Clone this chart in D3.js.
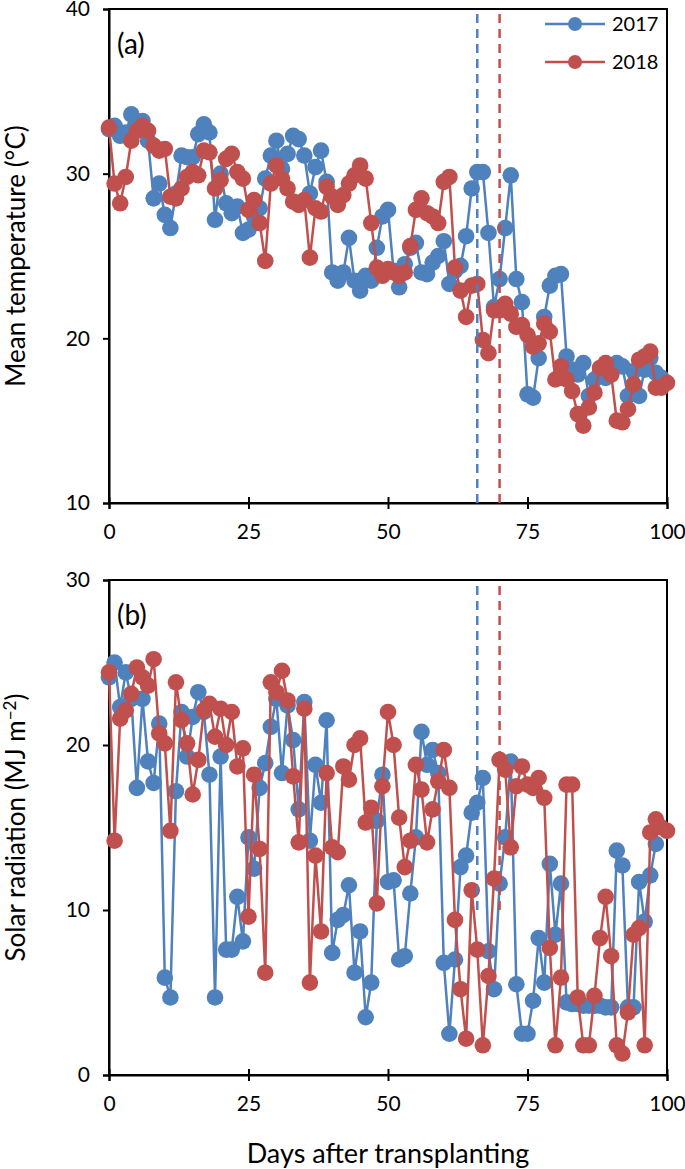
<!DOCTYPE html>
<html>
<head>
<meta charset="utf-8">
<script src="https://cdn.jsdelivr.net/npm/d3@7/dist/d3.min.js"></script>
<style>
body { margin:0; background:#fff; }
text { font-family: Lato, "Open Sans", sans-serif; fill:#000; }
</style>
</head>
<body>
<svg id="chart" width="685" height="1169"></svg>
<script>

// mean temperature, one value per day after transplanting (index = day)
var temp2017 = [32.7,32.9,32.3,32.5,33.6,33.0,33.2,32.0,28.5,29.4,
                27.5,26.7,28.8,31.1,31.0,31.0,32.4,33.0,32.5,27.2,
                30.0,28.2,27.6,28.0,26.4,26.6,27.4,27.9,29.7,31.1,
                32.0,30.3,31.2,32.3,32.1,31.1,28.8,30.4,31.4,29.5,
                24.0,23.5,24.0,26.1,23.5,22.9,23.8,23.5,25.5,27.4,
                27.8,24.1,23.1,24.5,25.5,25.8,24.0,23.9,24.6,25.0,
                25.9,23.3,24.1,24.4,26.2,29.1,30.1,30.1,26.4,21.9,
                23.6,26.7,29.9,23.6,22.2,16.6,16.4,18.8,21.3,23.2,
                23.8,23.9,18.9,18.1,17.8,18.5,16.5,17.5,17.9,17.6,
                18.0,18.5,18.3,16.5,18.0,16.5,18.1,18.8,17.9,17.6];

var temp2018 = [32.8,29.4,28.2,29.8,32.0,32.6,32.9,32.6,31.7,31.4,
                31.5,28.6,28.5,29.1,29.8,30.1,29.9,31.4,31.3,29.1,
                29.6,30.9,31.2,30.1,29.7,27.8,28.4,27.0,24.7,29.4,
                30.5,29.7,29.1,28.3,28.1,28.4,24.9,27.9,27.7,29.2,
                28.6,28.1,28.7,29.4,29.9,30.5,29.7,27.0,24.3,23.8,
                24.2,24.0,23.8,24.0,25.6,27.8,28.5,27.6,27.4,27.0,
                29.5,29.8,24.3,22.9,21.3,23.2,23.3,19.9,19.1,21.7,
                21.7,22.1,21.5,20.7,20.8,20.2,19.5,19.7,20.9,20.4,
                17.5,18.3,17.5,16.8,15.4,14.7,15.8,16.7,18.2,18.5,
                17.8,15.0,14.9,15.7,17.2,18.7,18.9,19.2,17.0,17.0,17.3];

// solar radiation (MJ m-2)
var rad2017 = [24.1,25.0,22.3,24.4,22.8,17.4,22.8,19.0,17.7,21.3,
               5.9,4.7,17.2,22.0,19.3,21.7,23.2,22.0,18.2,4.7,
               19.3,7.6,7.6,10.8,8.1,14.4,12.5,17.4,18.9,21.1,
               22.8,18.3,22.4,20.3,16.1,22.6,14.2,18.8,16.5,21.5,
               7.4,9.4,9.7,11.5,6.2,8.7,3.5,5.6,15.4,18.2,
               11.7,11.8,7.0,7.2,11.0,14.4,20.8,18.8,19.7,18.3,
               6.8,2.5,7.0,12.6,13.3,15.9,16.5,18.0,7.5,5.2,
               11.6,14.4,19.0,5.5,2.5,2.5,4.5,8.3,5.6,12.8,
               8.5,11.6,4.4,4.3,4.3,4.2,4.2,4.2,4.2,4.1,
               4.1,13.6,12.7,4.1,4.1,11.7,9.3,12.1,14.0];

var rad2018 = [24.4,14.2,21.6,22.1,23.1,24.7,24.1,23.6,25.2,20.7,
               20.1,14.8,23.8,21.5,20.1,17.0,19.1,22.1,22.5,20.5,
               22.2,20.0,22.0,18.7,19.8,9.6,18.2,13.7,6.2,23.8,
               23.2,24.5,22.7,18.1,14.1,22.2,5.6,13.3,8.7,18.3,
               13.8,13.5,18.7,17.9,20.0,20.4,15.3,16.2,10.4,17.5,
               22.0,20.0,15.6,12.6,14.2,18.8,17.3,14.1,16.1,17.8,
               19.7,17.4,9.4,5.2,2.2,11.2,7.6,1.8,6.0,11.9,
               19.1,18.5,13.8,17.5,18.7,17.6,17.4,18.0,16.8,7.7,
               1.8,5.9,17.6,17.6,4.7,1.8,1.8,4.8,8.3,10.8,
               7.2,1.8,1.3,3.8,8.5,8.9,1.8,14.7,15.5,15.0,14.8];

var years = ["2017","2018"];
var colors = ["#4f81bd","#c0504d"];
var dayTicks = [0,25,50,75,100];
// days marked by the dashed lines for each year
var markDays = [66,70];

var svg = d3.select("#chart");
var x = d3.scaleLinear().domain([0,100]).range([109,667]);

function drawpanel(cfg){
    var y = d3.scaleLinear().domain(cfg.domain).range([cfg.bottom,cfg.top]);
    var g = svg.append("g").attr("class","panel");

    // box
    g.append("rect")
        .attr("x",x(0)).attr("y",cfg.top)
        .attr("width",x(100)-x(0)).attr("height",cfg.bottom-cfg.top)
        .attr("fill","none").attr("stroke","#000").attr("stroke-width",2);

    var xa = g.append("g")
        .attr("transform","translate(0,"+cfg.bottom+")")
        .call(d3.axisBottom(x).tickValues(dayTicks).tickSize(6).tickPadding(15));
    xa.selectAll(".tick line").attr("y1",-6).attr("y2",6);

    var ya = g.append("g")
        .attr("transform","translate("+x(0)+",0)")
        .call(d3.axisLeft(y).tickValues(cfg.ticks).tickSize(6).tickPadding(13));

    g.selectAll(".domain").attr("stroke-width",2);
    g.selectAll(".tick line").attr("stroke-width",2);
    g.selectAll(".tick text").style("font-size","21px").style("font-family","Lato, sans-serif");

    var line = d3.line()
        .x(function(d,i){ return x(i); })
        .y(function(d){ return y(d); });

    cfg.series.forEach(function(s,k){
        var sg = g.append("g").attr("class","series");
        sg.append("path")
            .datum(s)
            .attr("d",line)
            .attr("fill","none")
            .attr("stroke",colors[k])
            .attr("stroke-width",2.5);
        sg.selectAll("circle")
            .data(s)
            .enter().append("circle")
            .attr("cx",function(d,i){ return x(i); })
            .attr("cy",function(d){ return y(d); })
            .attr("r",8.3)
            .attr("fill",colors[k]);
    });

    markDays.forEach(function(d,k){
        g.append("line")
            .attr("x1",x(d)).attr("x2",x(d))
            .attr("y1",y(cfg.markFrom)).attr("y2",cfg.top)
            .attr("stroke",colors[k])
            .attr("stroke-width",2.5)
            .attr("stroke-dasharray","9,6");
    });

    g.append("text")
        .attr("x",117).attr("y",cfg.top+45)
        .style("font-size","28px")
        .text(cfg.label);

    var yt = g.append("text")
        .attr("transform","translate(25,"+((cfg.top+cfg.bottom)/2)+") rotate(-90)")
        .attr("text-anchor","middle")
        .style("font-size","26px");
    cfg.title(yt);
    return g;
}

drawpanel({
    domain:[10,40], ticks:[10,20,30,40], top:9, bottom:503, markFrom:10,
    series:[temp2017,temp2018], label:"(a)",
    title:function(t){ t.text("Mean temperature (°C)"); }
});

drawpanel({
    domain:[0,30], ticks:[0,10,20,30], top:580, bottom:1075, markFrom:10,
    series:[rad2017,rad2018], label:"(b)",
    title:function(t){
        t.append("tspan").text("Solar radiation (MJ m");
        t.append("tspan").attr("dy",-9).style("font-size","17px").text("\u22122");
        t.append("tspan").attr("dy",9).text(")");
    }
});

// legend
var lg = svg.append("g").attr("class","legend");
years.forEach(function(yr,k){
    var ly = 24 + k*38;
    lg.append("line").attr("x1",545).attr("x2",605).attr("y1",ly).attr("y2",ly)
        .attr("stroke",colors[k]).attr("stroke-width",2.5);
    lg.append("circle").attr("cx",575).attr("cy",ly).attr("r",7).attr("fill",colors[k]);
    lg.append("text").attr("x",612).attr("y",ly+7).style("font-size","20px").text(yr);
});

svg.append("text")
    .attr("x",388).attr("y",1163)
    .attr("text-anchor","middle")
    .style("font-size","27px")
    .text("Days after transplanting");

</script>
</body>
</html>
